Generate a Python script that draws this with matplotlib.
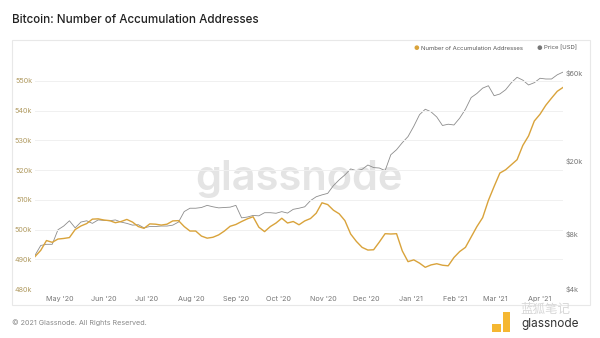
import matplotlib
matplotlib.use('Agg')
import matplotlib.pyplot as plt
import matplotlib.dates as mdates
from matplotlib.patches import Rectangle
from matplotlib.ticker import FixedLocator, FixedFormatter
import pandas as pd

plt.rcParams['font.family'] = ['Inter', 'Noto Sans CJK SC', 'DejaVu Sans']

# 4-day samples, mid-April 2020 to mid-April 2021
dates = pd.date_range('2020-04-14', periods=93, freq='4D')

# accumulation addresses, thousands
accum_k = [
    490.9, 493.0, 496.3, 495.7, 496.8, 497.0, 497.3, 500.0, 501.2, 502.0,
    503.5, 503.6, 503.2, 503.0, 502.3, 502.7, 503.4, 502.5, 501.0, 500.4,
    501.9, 501.8, 501.5, 501.8, 502.9, 503.0, 501.0, 499.5, 499.5, 497.8,
    497.1, 497.4, 498.2, 499.5, 501.1, 501.7, 502.7, 503.6, 504.3, 500.8,
    499.3, 501.0, 502.2, 503.8, 502.2, 502.7, 501.6, 502.9, 503.7, 505.5,
    509.0, 508.4, 506.5, 505.3, 503.0, 498.5, 496.0, 494.0, 493.1, 493.2,
    495.8, 498.6, 498.5, 498.6, 492.8, 489.2, 489.8, 488.7, 487.3, 488.1,
    488.5, 488.0, 487.8, 490.6, 492.6, 494.0, 497.5, 501.0, 504.0, 509.8,
    514.5, 519.0, 520.1, 521.8, 523.5, 528.3, 531.5, 536.5, 538.8, 541.8,
    544.2, 546.5, 547.8,
]

# BTC price, USD
price_usd = [
    6100, 6900, 7000, 7000, 8400, 8800, 9400, 8600, 9250, 9400,
    9100, 9500, 9450, 9400, 9500, 9250, 9100, 8900, 8950, 8600,
    8750, 8750, 8800, 8800, 8900, 9250, 10550, 11000, 11000, 11100,
    11400, 11200, 11050, 11100, 11150, 11400, 9750, 9850, 10050, 10000,
    10400, 10400, 10330, 10540, 10350, 10850, 11000, 11200, 12100, 12700,
    13000, 13250, 14600, 15700, 16700, 18000, 17600, 17900, 18900, 18300,
    18200, 17600, 21500, 22900, 25000, 27000, 30700, 35500, 38000, 36800,
    34500, 31000, 31500, 31200, 34000, 38000, 44000, 46300, 49500, 51000,
    45000, 46000, 48500, 53000, 56700, 54700, 51500, 53000, 56000, 55500,
    55500, 58500, 60500,
]

left_ticks = [480, 490, 500, 510, 520, 530, 540, 550]
left_labels = [f'{v}k' for v in left_ticks]
price_ticks = [4000, 8000, 20000, 60000]
price_labels = ['$4k', '$8k', '$20k', '$60k']

ORANGE = '#d9a33b'
GREY_LINE = '#8c8c8c'

fig = plt.figure(figsize=(6, 3.38), dpi=100)
fig.patch.set_facecolor('white')

# card frame, kept behind the axes
fig.patches.append(Rectangle((12 / 600, 1 - 305 / 338), 578 / 600, 265 / 338,
                             transform=fig.transFigure, facecolor='white',
                             edgecolor='#e8e8e8', linewidth=0.8, zorder=-1))

fig.text(12 / 600, 1 - 20 / 338, 'Bitcoin: Number of Accumulation Addresses',
         fontsize=8.4, color='#222222', va='center', ha='left',
         fontweight='medium')
fig.text(12 / 600, 1 - 323 / 338, '\u00a9 2021 Glassnode. All Rights Reserved.',
         fontsize=5.2, color='#8a8a8a', va='center', ha='left')

ax = fig.add_axes([35 / 600, 49 / 338, 528 / 600, 220 / 338])
ax2 = ax.twinx()
ax.set_zorder(ax2.get_zorder() + 1)
ax.patch.set_visible(False)

ax2.plot(dates, price_usd, color=GREY_LINE, lw=0.6)
ax.plot(dates, accum_k, color=ORANGE, lw=1.0)

ax.set_ylim(480, 554)
ax.set_xlim(dates[0], dates[-1])
ax.yaxis.set_major_locator(FixedLocator(left_ticks))
ax.yaxis.set_major_formatter(FixedFormatter(left_labels))
ax.grid(axis='y', color='#f0f0f0', lw=0.7)
ax.set_axisbelow(True)

ax2.set_yscale('log')
ax2.set_ylim(4000, 62900)
ax2.yaxis.set_major_locator(FixedLocator(price_ticks))
ax2.yaxis.set_major_formatter(FixedFormatter(price_labels))
ax2.yaxis.set_minor_locator(FixedLocator([]))

ax.xaxis.set_major_locator(mdates.MonthLocator())
ax.xaxis.set_major_formatter(mdates.DateFormatter("%b '%y"))

for a in (ax, ax2):
    for s in a.spines.values():
        s.set_visible(False)
    a.tick_params(length=0)
ax.tick_params(axis='y', labelsize=5.2, labelcolor='#b09a60', pad=2)
ax.tick_params(axis='x', labelsize=5.2, labelcolor='#777777', pad=5)
ax2.tick_params(axis='y', labelsize=5.2, labelcolor='#777777', pad=2)

# watermark
ax2.text(0.5, 0.5, 'glassnode', transform=ax2.transAxes, fontsize=30,
         color='#e4e4e4', ha='center', va='center', zorder=0,
         fontweight='semibold')

# legend
fig.text(416 / 600, 1 - 48 / 338, '\u25cf', color=ORANGE, fontsize=4.5,
         va='center', ha='center')
fig.text(421 / 600, 1 - 48 / 338, 'Number of Accumulation Addresses',
         fontsize=4.3, color='#555555', va='center', ha='left')
fig.text(539 / 600, 1 - 48 / 338, '\u25cf', color='#777777', fontsize=4.5,
         va='center', ha='center')
fig.text(544 / 600, 1 - 48 / 338, 'Price [USD]', fontsize=4.3,
         color='#555555', va='center', ha='left')

# repost stamp, bottom right
fig.patches.append(Rectangle((492 / 600, 1 - 332 / 338), 9 / 600, 8 / 338,
                             transform=fig.transFigure, facecolor='#f5b731',
                             edgecolor='none'))
fig.patches.append(Rectangle((503 / 600, 1 - 332 / 338), 7 / 600, 20 / 338,
                             transform=fig.transFigure, facecolor='#f5b731',
                             edgecolor='none'))
fig.text(545 / 600, 1 - 310 / 338, '蓝狐笔记', fontsize=9, color='#d8d8d8',
         va='center', ha='center')
fig.text(550 / 600, 1 - 324 / 338, 'glassnode', fontsize=8.5, color='#333333',
         va='center', ha='center')

fig.savefig('out.png', dpi=100)
